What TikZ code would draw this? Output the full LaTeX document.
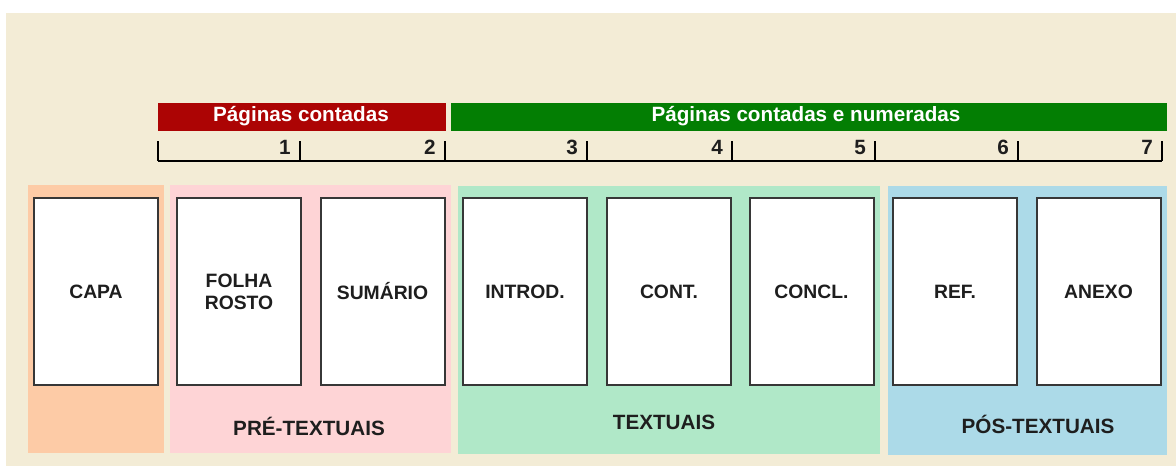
\documentclass[tikz,border=0pt]{standalone}
\usepackage{fontspec}
\setmainfont{Liberation Sans}
\definecolor{bgbeige}{RGB}{243,236,214}
\definecolor{capaor}{RGB}{253,203,166}
\definecolor{prepink}{RGB}{254,212,214}
\definecolor{txtgreen}{RGB}{176,232,200}
\definecolor{posblue}{RGB}{172,218,232}
\definecolor{barred}{RGB}{172,4,4}
\definecolor{bargreen}{RGB}{3,126,3}
\definecolor{pageedge}{RGB}{55,55,55}
\definecolor{labeltext}{RGB}{30,30,30}
\begin{document}
\begin{tikzpicture}[x=0.75pt,y=-0.75pt,
  pagebox/.style={draw=pageedge,line width=1.5pt,fill=white,minimum width=93pt,minimum height=140pt,inner sep=0pt,
    font=\bfseries\fontsize{14.5}{16.5}\selectfont,text=labeltext,align=center},
  grouplabel/.style={font=\bfseries\fontsize{15.5}{17}\selectfont,text=labeltext},
  bartext/.style={font=\bfseries\fontsize{15.5}{17}\selectfont,text=white},
  numlabel/.style={font=\bfseries\fontsize{15.5}{17}\selectfont,text=labeltext,anchor=east,inner sep=0pt},
  ruler/.style={line width=1.5pt,black}]
\useasboundingbox (0,0) rectangle (1176,466);
\fill[white] (0,0) rectangle (1176,466);
\fill[bgbeige] (6,13) rectangle (1176,466);
% panels
\fill[capaor] (28,185) rectangle (164,453);
\fill[prepink] (170,185) rectangle (451,453);
\fill[txtgreen] (458,186) rectangle (880,454);
\fill[posblue] (888,186) rectangle (1167,455);
% bars
\fill[barred] (158,103) rectangle (446,131);
\node[bartext] (rbar) at (301,116) {Páginas contadas};
\fill[bargreen] (451,103) rectangle (1167,131);
\node[bartext] (gbar) at (806,116) {Páginas contadas e numeradas};
% ruler
\foreach \i/\x in {0/158,1/300,2/445,3/587,4/732,5/875,6/1018,7/1162}{
  \coordinate (t\i) at (\x,161);
  \coordinate (u\i) at (\x,141);
}
\draw[ruler] (t0) -- (t7);
\foreach \i in {0,...,7}{ \draw[ruler] (t\i) -- (u\i); }
\foreach \i/\x in {1/300,2/445,3/587,4/732,5/875,6/1018,7/1162}{
  \node[numlabel] (n\i) at (\x-9,147) {\i};
}
% pages
\node[pagebox] (capa) at (96,291.5) {CAPA};
\node[pagebox] (folha) at (239,291.5) {FOLHA\\ROSTO};
\node[pagebox] (sumario) at (382.5,291.5) {SUMÁRIO};
\node[pagebox] (introd) at (525,291.5) {INTROD.};
\node[pagebox] (cont) at (669,291.5) {CONT.};
\node[pagebox] (concl) at (811.5,291.5) {CONCL.};
\node[pagebox] (ref) at (955,291.5) {REF.};
\node[pagebox] (anexo) at (1098.5,291.5) {ANEXO};
% group labels
\node[grouplabel] (pre) at (309,426) {PRÉ-TEXTUAIS};
\node[grouplabel] (txt) at (664,422.5) {TEXTUAIS};
\node[grouplabel] (pos) at (1038,424) {PÓS-TEXTUAIS};
\end{tikzpicture}
\end{document}
